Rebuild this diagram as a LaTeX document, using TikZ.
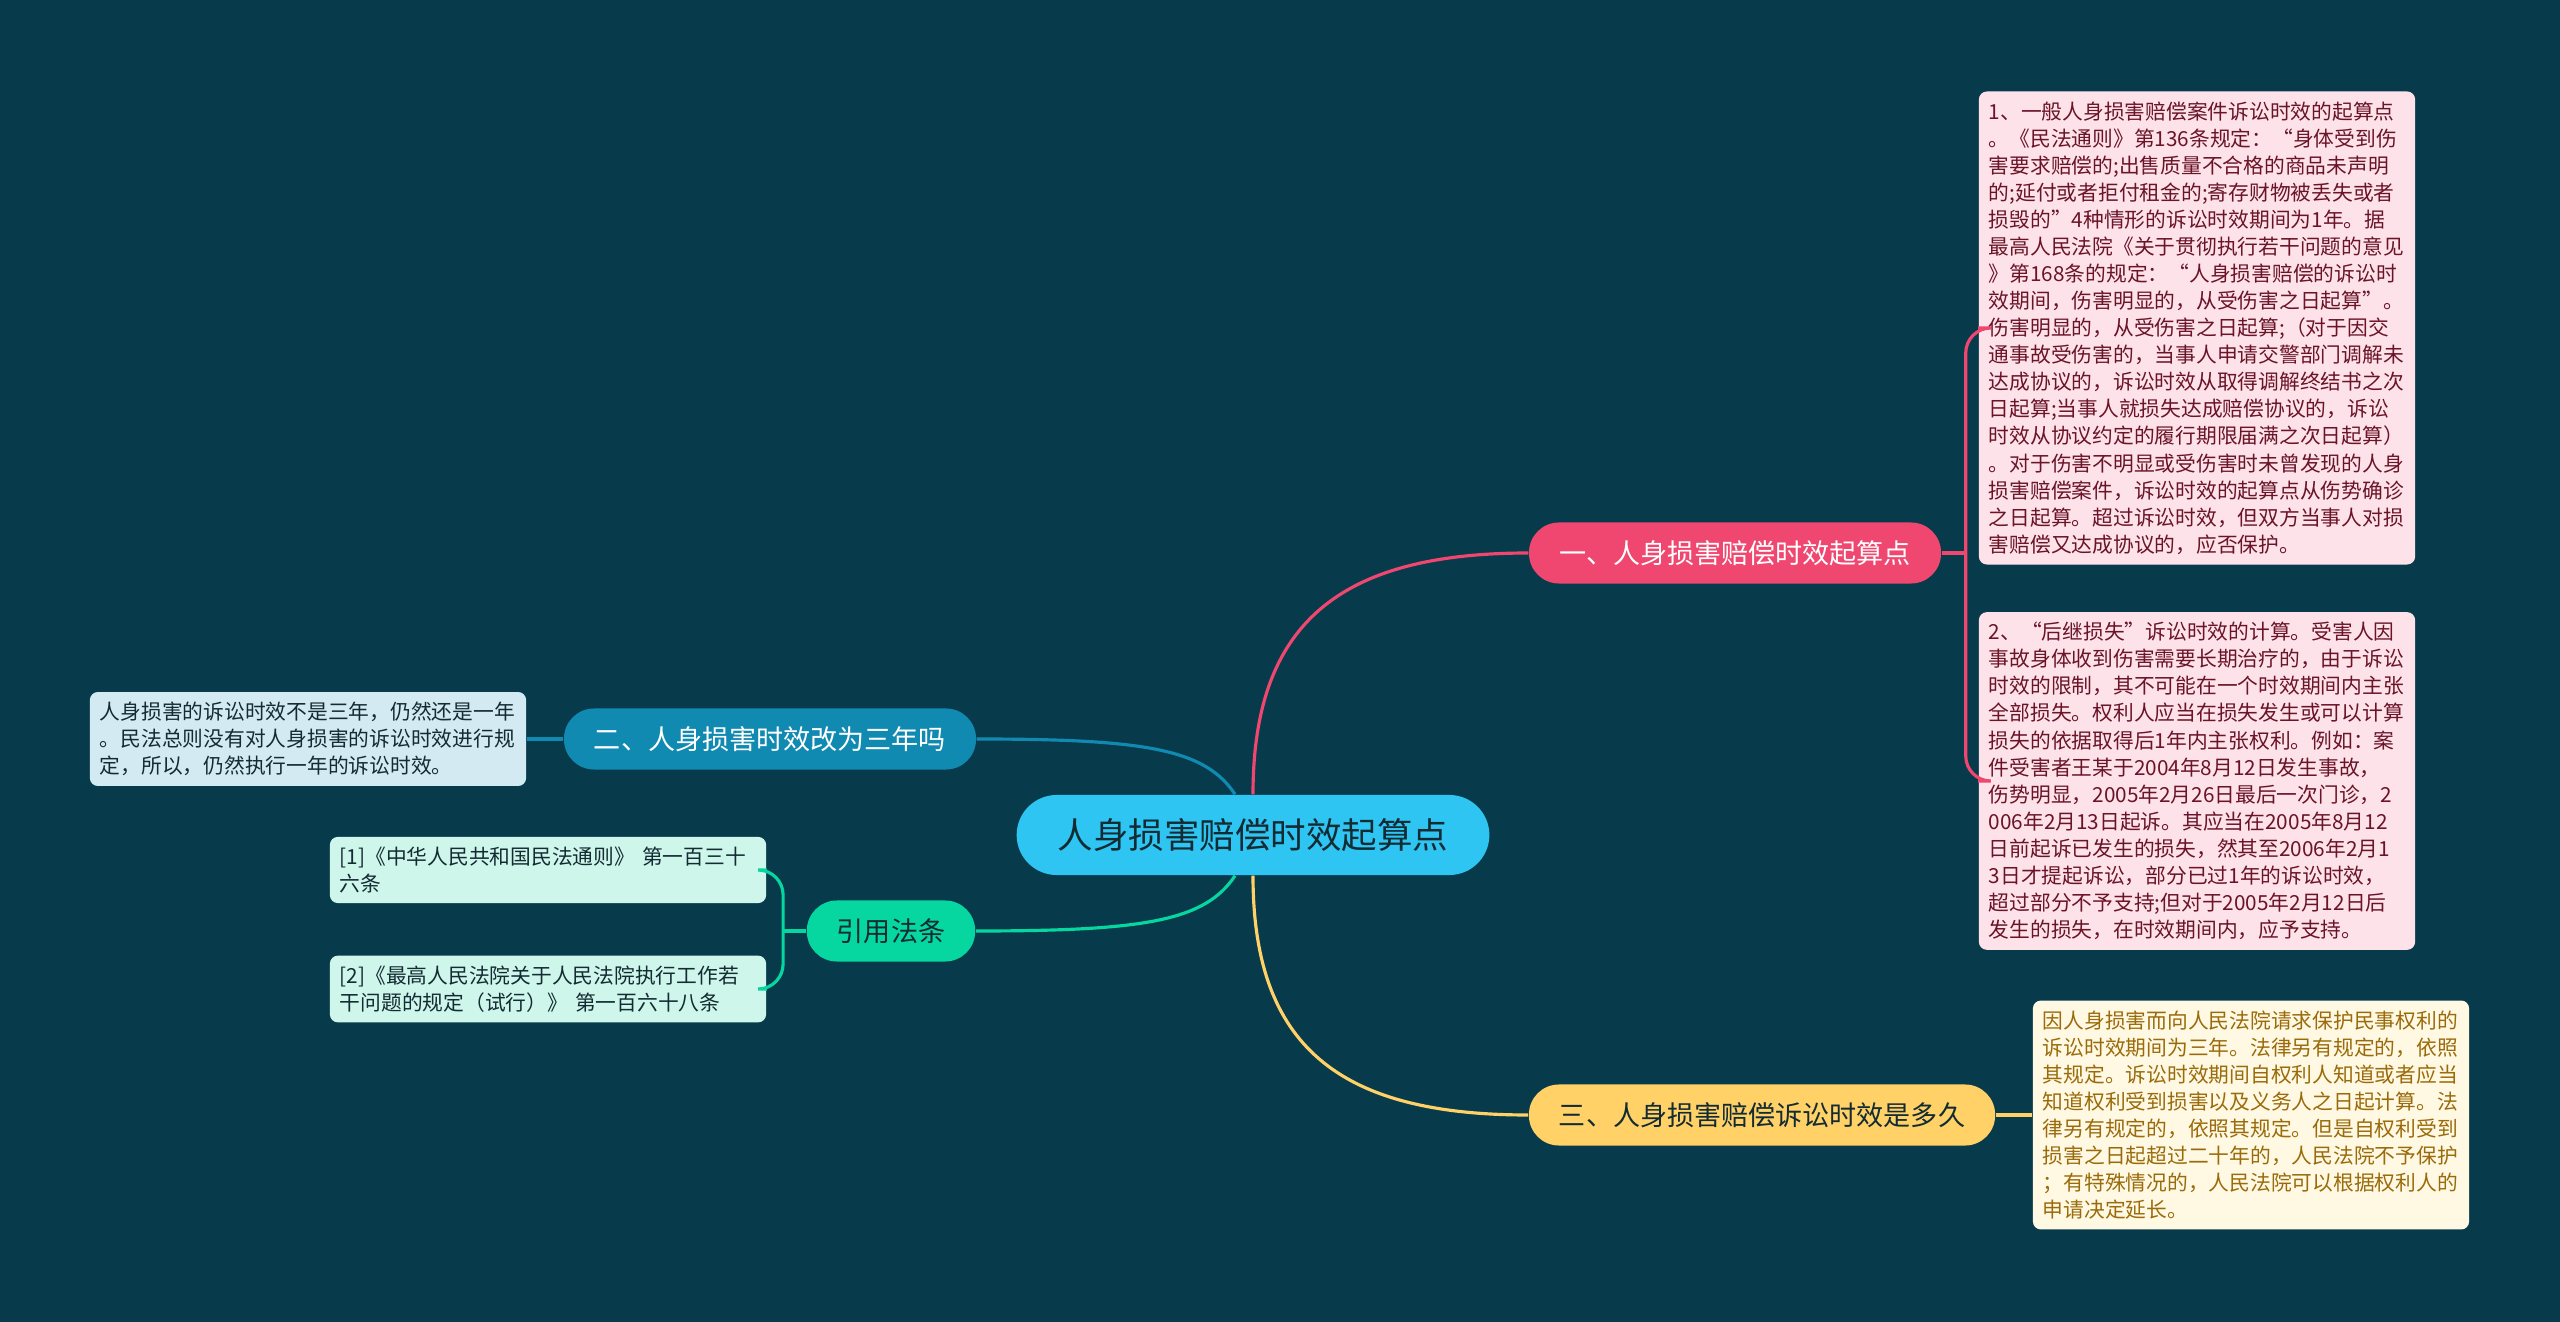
\documentclass[tikz,border=0pt]{standalone}
\usepackage{fontspec}
\newfontfamily\cjkfont{Noto Sans CJK SC}
\usetikzlibrary{positioning,calc}

\definecolor{bgcol}{HTML}{073B4C}
\definecolor{rootcol}{HTML}{2EC5F3}
\definecolor{pinkcol}{HTML}{EF476F}
\definecolor{bluecol}{HTML}{118AB2}
\definecolor{yellowcol}{HTML}{FFD166}
\definecolor{greencol}{HTML}{06D6A0}
\definecolor{pinkbox}{HTML}{FDE3E9}
\definecolor{bluebox}{HTML}{D3EAF2}
\definecolor{yellowbox}{HTML}{FFF8E3}
\definecolor{greenbox}{HTML}{CFF6EA}
\definecolor{pinkink}{HTML}{6B1428}
\definecolor{yellowink}{HTML}{9A6B0A}
\definecolor{darkink}{HTML}{132B33}

\begin{document}
\begin{tikzpicture}[x=0.01cm,y=-0.01cm,
  rootnode/.style={rectangle,rounded corners=0.4cm,fill=rootcol,text=darkink,inner xsep=0.41cm,minimum height=0.8cm,font=\cjkfont\fontsize{10.1}{12}\selectfont},
  branchnode/.style={rectangle,rounded corners=0.3cm,fill=#1,inner xsep=0.3cm,minimum height=0.61cm,font=\cjkfont\fontsize{7.7}{9}\selectfont},
  leafnode/.style={rectangle,rounded corners=0.08cm,fill=#1,text width=4.16cm,inner xsep=0.1cm,inner ysep=0.1cm,align=left,font=\cjkfont\fontsize{5.9}{7.7}\selectfont},
  link/.style={line width=0.9pt,draw=#1},
]

% === background ===
\fill[bgcol] (0,0) rectangle (2560,1322);
\useasboundingbox (0,0) rectangle (2560,1322);

% === root and main branches ===
\node[rootnode] (root) at (1253,835) {人身损害赔偿时效起算点};

\node[branchnode=pinkcol,text=white] (b1) at (1735,553) {一、人身损害赔偿时效起算点};
\node[branchnode=bluecol,text=white] (b2) at (770,739) {二、人身损害时效改为三年吗};
\node[branchnode=yellowcol,text=darkink] (b3) at (1762,1115) {三、人身损害赔偿诉讼时效是多久};
\node[branchnode=greencol,text=darkink] (b4) at (891,931) {引用法条};

% === leaves ===
\node[leafnode=pinkbox,text=pinkink] (b1a) at (2197,328) {1、一般人身损害赔偿案件诉讼时效的起算点\\
。《民法通则》第136条规定：“身体受到伤\\
害要求赔偿的;出售质量不合格的商品未声明\\
的;延付或者拒付租金的;寄存财物被丢失或者\\
损毁的”4种情形的诉讼时效期间为1年。据\\
最高人民法院《关于贯彻执行若干问题的意见\\
》第168条的规定：“人身损害赔偿的诉讼时\\
效期间，伤害明显的，从受伤害之日起算”。\\
伤害明显的，从受伤害之日起算;（对于因交\\
通事故受伤害的，当事人申请交警部门调解未\\
达成协议的，诉讼时效从取得调解终结书之次\\
日起算;当事人就损失达成赔偿协议的，诉讼\\
时效从协议约定的履行期限届满之次日起算）\\
。对于伤害不明显或受伤害时未曾发现的人身\\
损害赔偿案件，诉讼时效的起算点从伤势确诊\\
之日起算。超过诉讼时效，但双方当事人对损\\
害赔偿又达成协议的，应否保护。};

\node[leafnode=pinkbox,text=pinkink] (b1b) at (2197,781) {2、“后继损失”诉讼时效的计算。受害人因\\
事故身体收到伤害需要长期治疗的，由于诉讼\\
时效的限制，其不可能在一个时效期间内主张\\
全部损失。权利人应当在损失发生或可以计算\\
损失的依据取得后1年内主张权利。例如：案\\
件受害者王某于2004年8月12日发生事故，\\
伤势明显，2005年2月26日最后一次门诊，2\\
006年2月13日起诉。其应当在2005年8月12\\
日前起诉已发生的损失，然其至2006年2月1\\
3日才提起诉讼，部分已过1年的诉讼时效，\\
超过部分不予支持;但对于2005年2月12日后\\
发生的损失，在时效期间内，应予支持。};

\node[leafnode=bluebox,text=darkink] (b2a) at (308,739) {人身损害的诉讼时效不是三年，仍然还是一年\\
。民法总则没有对人身损害的诉讼时效进行规\\
定，所以，仍然执行一年的诉讼时效。};

\node[leafnode=yellowbox,text=yellowink] (b3a) at (2251,1115) {因人身损害而向人民法院请求保护民事权利的\\
诉讼时效期间为三年。法律另有规定的，依照\\
其规定。诉讼时效期间自权利人知道或者应当\\
知道权利受到损害以及义务人之日起计算。法\\
律另有规定的，依照其规定。但是自权利受到\\
损害之日起超过二十年的，人民法院不予保护\\
；有特殊情况的，人民法院可以根据权利人的\\
申请决定延长。};

\node[leafnode=greenbox,text=darkink] (b4a) at (548,870) {[1]《中华人民共和国民法通则》 第一百三十\\
六条};
\node[leafnode=greenbox,text=darkink] (b4b) at (548,989) {[2]《最高人民法院关于人民法院执行工作若\\
干问题的规定（试行）》 第一百六十八条};

% === connectors ===
\draw[link=pinkcol] (root.north) .. controls +(0,-170) and +(-190,0) .. (b1.west);
\draw[link=bluecol] (b2.east) .. controls +(170,0) and +(-30,-45) .. ($(root.north)+(-18,0)$);
\draw[link=greencol] (b4.east) .. controls +(170,0) and +(-30,45) .. ($(root.south)+(-18,0)$);
\draw[link=yellowcol] (root.south) .. controls +(0,170) and +(-190,0) .. (b3.west);

\coordinate (j1) at ($(b1.east)+(24,0)$);
\draw[link=pinkcol] (b1.east) -- (j1);
\draw[link=pinkcol,rounded corners=0.25cm] (b1a.west) -| (j1) |- (b1b.west);

\coordinate (j4) at ($(b4.west)+(-23,0)$);
\draw[link=greencol] (b4.west) -- (j4);
\draw[link=greencol,rounded corners=0.25cm] (b4a.east) -| (j4) |- (b4b.east);

\draw[link=bluecol] (b2.west) -- (b2a.east);
\draw[link=yellowcol] (b3.east) -- (b3a.west);

\end{tikzpicture}
\end{document}
